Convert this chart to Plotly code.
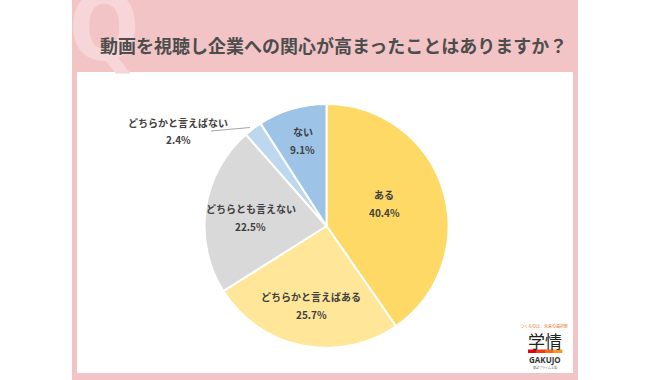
import math
import plotly.graph_objects as go

labels = ["ある", "どちらかと言えばある", "どちらとも言えない", "どちらかと言えばない", "ない"]
values = [40.4, 25.7, 22.5, 2.4, 9.1]
colors = ["#FFD966", "#FFE699", "#D9D9D9", "#BDD7EE", "#9DC3E6"]
title_text = "動画を視聴し企業への関心が高まったことはありますか？"

W, H = 650, 380
def px(x):
    return x / W
def py(y):
    return 1 - y / H

cx, cy, R = 326.5, 226, 122
# inside label placement: fraction of radius and angular nudge (deg) from slice mid-angle
label_r = [0.505, 0.664, 0.623, None, 0.723]
label_nudge = [-3.6, -0.7, -2.1, 0.0, 0.9]
line_gap = 18
label_font = dict(family="Noto Sans CJK JP", size=10, color="#3F3F3F", weight="bold")

fig = go.Figure()
fig.add_trace(go.Pie(
    labels=labels, values=values, sort=False, direction="clockwise", rotation=0,
    marker=dict(colors=colors, line=dict(color="white", width=2)),
    textinfo="none",
    hoverinfo="skip", showlegend=False,
    domain=dict(x=[px(cx - R), px(cx + R)], y=[py(cy + R), py(cy - R)]),
))

shapes = [
    dict(type="rect", xref="paper", yref="paper", x0=px(72), x1=px(578), y0=0, y1=1,
         fillcolor="#F2C4C6", line=dict(width=0), layer="below"),
    dict(type="rect", xref="paper", yref="paper", x0=px(77), x1=px(573), y0=py(373), y1=py(72),
         fillcolor="white", line=dict(width=0), layer="below"),
    # leader line for small slice
    dict(type="line", xref="paper", yref="paper", x0=px(211), y0=py(131), x1=px(250), y1=py(127.5),
         line=dict(color="#A6A6A6", width=1)),
]
# logo gradient bar
bar_cols = ["#E60012", "#EB3A14", "#F06A1A", "#F39A1E"]
bx0, bx1 = 528, 562
step = (bx1 - bx0) / len(bar_cols)
for i, c in enumerate(bar_cols):
    shapes.append(dict(type="rect", xref="paper", yref="paper",
                       x0=px(bx0 + i * step), x1=px(bx0 + (i + 1) * step + 0.3),
                       y0=py(353), y1=py(349.5), fillcolor=c, line=dict(width=0)))

def txt(text, x, y, font):
    return dict(text=text, x=px(x), y=py(y), xref="paper", yref="paper",
                xanchor="center", yanchor="middle", showarrow=False, font=font)

annotations = [
    txt("Q", 104, 28, dict(family="Liberation Sans Narrow, DejaVu Sans Condensed, Liberation Sans",
                           size=92, color="#F6D6D8", weight="bold")),
    txt(title_text, 333, 45, dict(family="Noto Sans CJK JP", size=18, color="#4D4D4D", weight="bold")),
    txt(labels[3], 178, 122, label_font),
    txt(f"{values[3]:.1f}%", 178, 139, label_font),
    txt("つくるのは、未来の選択肢", 544, 326, dict(family="Noto Sans CJK JP", size=4, color="#E8731E")),
    txt("学情", 545, 340, dict(family="Noto Sans CJK JP", size=17, color="#222222")),
    txt("GAKUJO", 545, 360, dict(family="Noto Sans", size=8, color="#333333", weight="bold")),
    txt("東証プライム上場", 545, 367, dict(family="Noto Sans CJK JP", size=3, color="#666666")),
]

# inside labels around each slice's mid-angle
total = sum(values)
cum = 0.0
for lab, v, f, nd in zip(labels, values, label_r, label_nudge):
    mid = (cum + v / 2) / total * 2 * math.pi + math.radians(nd)
    cum += v
    if f is None:
        continue
    lx = cx + f * R * math.sin(mid)
    ly = cy - f * R * math.cos(mid)
    annotations.append(txt(lab, lx, ly - line_gap / 2, label_font))
    annotations.append(txt(f"{v:.1f}%", lx, ly + line_gap / 2, label_font))

fig.update_layout(
    width=W, height=H, margin=dict(l=0, r=0, t=0, b=0),
    paper_bgcolor="white", plot_bgcolor="white",
    shapes=shapes, annotations=annotations,
)
fig.write_html("out.html", config={"displayModeBar": False},
               post_script="document.body.style.margin='0';")
